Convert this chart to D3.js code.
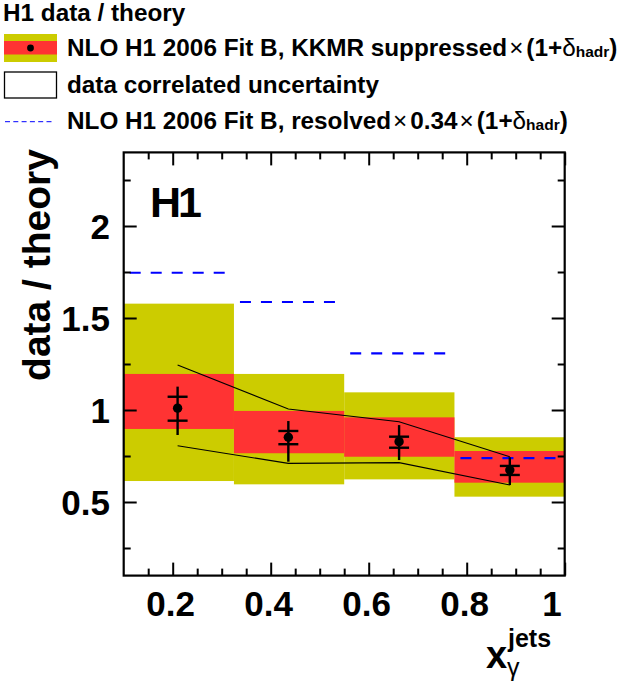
<!DOCTYPE html>
<html>
<head>
<meta charset="utf-8">
<script src="https://cdn.jsdelivr.net/npm/d3@7"></script>
<style>
  body { margin: 0; background: #fff; }
  text { font-family: "Liberation Sans", Arial, sans-serif; }
</style>
</head>
<body>
<div id="chart"></div>
<script>

// bins in x_gamma^jets
binEdges = [0.1, 0.325, 0.55, 0.775, 1.0]
xPoints = [0.21, 0.436, 0.662, 0.888]

// data / theory with errors
ratio = [1.01, 0.852, 0.828, 0.674]
statLo = [0.942, 0.814, 0.795, 0.647]
statHi = [1.072, 0.886, 0.855, 0.696]
totLo = [0.864, 0.719, 0.728, 0.592]
totHi = [1.127, 0.940, 0.918, 0.743]

// NLO theory bands (red = inner, yellow = outer)
innerLo = [0.897, 0.765, 0.746, 0.605]
innerHi = [1.196, 0.995, 0.960, 0.777]
outerLo = [0.614, 0.596, 0.623, 0.529]
outerHi = [1.578, 1.196, 1.096, 0.852]

// resolved x 0.34
resolved = [1.746, 1.587, 1.308, 0.738]

// data correlated uncertainty
corrHi = [1.245, 1.005, 0.936, 0.746]
corrLo = [0.806, 0.710, 0.714, 0.592]

xMajor = [0.2, 0.4, 0.6, 0.8, 1.0]
xMajorLbl = ["0.2", "0.4", "0.6", "0.8", "1"]
xMinor = [0.15, 0.25, 0.3, 0.35, 0.45, 0.5, 0.55, 0.65, 0.7, 0.75, 0.85, 0.9, 0.95]
yMajor = [0.5, 1, 1.5, 2]
yMajorLbl = ["0.5", "1", "1.5", "2"]
yMinor = [0.25, 0.75, 1.25, 1.75, 2.25]

var W = 626, H = 691
var yellow = "#cccc00", red = "#ff3333", blue = "#0000ff"

var svg = d3.select("#chart").append("svg")
  .attr("width", W)
  .attr("height", H)

svg.append("rect").attr("width", W).attr("height", H).attr("fill", "white")

var x = d3.scaleLinear().domain([0.1, 1.0]).range([123.7, 564.7])
var y = d3.scaleLinear().domain([0.1, 2.4]).range([575.6, 152.4])

var bins = d3.range(4)

// outer band
svg.append("g").selectAll("rect")
  .data(bins)
  .enter()
  .append("rect")
  .attr("x", function(i){ return x(binEdges[i]) })
  .attr("width", function(i){ return x(binEdges[i+1]) - x(binEdges[i]) })
  .attr("y", function(i){ return y(outerHi[i]) })
  .attr("height", function(i){ return y(outerLo[i]) - y(outerHi[i]) })
  .attr("fill", yellow)

// inner band
svg.append("g").selectAll("rect")
  .data(bins)
  .enter()
  .append("rect")
  .attr("x", function(i){ return x(binEdges[i]) })
  .attr("width", function(i){ return x(binEdges[i+1]) - x(binEdges[i]) })
  .attr("y", function(i){ return y(innerHi[i]) })
  .attr("height", function(i){ return y(innerLo[i]) - y(innerHi[i]) })
  .attr("fill", red)

// resolved, dashed
svg.append("g").selectAll("line")
  .data(bins)
  .enter()
  .append("line")
  .attr("x1", function(i){ return x(binEdges[i]) + 6 })
  .attr("x2", function(i){ return x(binEdges[i+1]) })
  .attr("y1", function(i){ return y(resolved[i]) })
  .attr("y2", function(i){ return y(resolved[i]) })
  .attr("stroke", blue)
  .attr("stroke-width", 2.2)
  .attr("stroke-dasharray", "11,10")

// correlated uncertainty lines
var corrLine = d3.line()
  .x(function(d,i){ return x(xPoints[i]) })
  .y(function(d){ return y(d) })

;[corrHi, corrLo].forEach(function(arr)
{
  svg.append("path")
    .attr("d", corrLine(arr))
    .attr("fill", "none")
    .attr("stroke", "black")
    .attr("stroke-width", 1.1)
})

// data points
var pts = svg.append("g").selectAll("g")
  .data(bins)
  .enter()
  .append("g")

pts.append("line")
  .attr("x1", function(i){ return x(xPoints[i]) })
  .attr("x2", function(i){ return x(xPoints[i]) })
  .attr("y1", function(i){ return y(totHi[i]) })
  .attr("y2", function(i){ return y(totLo[i]) })
  .attr("stroke", "black")
  .attr("stroke-width", 2.4)

;[statLo, statHi].forEach(function(arr)
{
  pts.append("line")
    .attr("x1", function(i){ return x(xPoints[i]) - 10 })
    .attr("x2", function(i){ return x(xPoints[i]) + 10 })
    .attr("y1", function(i){ return y(arr[i]) })
    .attr("y2", function(i){ return y(arr[i]) })
    .attr("stroke", "black")
    .attr("stroke-width", 2.4)
})

pts.append("circle")
  .attr("cx", function(i){ return x(xPoints[i]) })
  .attr("cy", function(i){ return y(ratio[i]) })
  .attr("r", 4.7)
  .attr("fill", "black")

// frame + ticks
var x0 = x.range()[0], x1 = x.range()[1], y0 = y.range()[0], y1 = y.range()[1]

function ticksOn(axisGen, vals, size, transform)
{
  var g = svg.append("g")
    .attr("transform", transform)
    .call(axisGen.tickValues(vals).tickSize(size).tickFormat(""))
  g.select(".domain").remove()
  g.selectAll("line").attr("stroke", "black").attr("stroke-width", 2)
  return g
}

ticksOn(d3.axisBottom(x), xMajor, -13, "translate(0," + y0 + ")")
ticksOn(d3.axisBottom(x), xMinor, -7, "translate(0," + y0 + ")")
ticksOn(d3.axisTop(x), xMajor, -13, "translate(0," + y1 + ")")
ticksOn(d3.axisTop(x), xMinor, -7, "translate(0," + y1 + ")")
ticksOn(d3.axisLeft(y), yMajor, -13, "translate(" + x0 + ",0)")
ticksOn(d3.axisLeft(y), yMinor, -7, "translate(" + x0 + ",0)")
ticksOn(d3.axisRight(y), yMajor, -13, "translate(" + x1 + ",0)")
ticksOn(d3.axisRight(y), yMinor, -7, "translate(" + x1 + ",0)")

svg.append("rect")
  .attr("x", x0)
  .attr("y", y1)
  .attr("width", x1 - x0)
  .attr("height", y0 - y1)
  .attr("fill", "none")
  .attr("stroke", "black")
  .attr("stroke-width", 2.2)

// tick labels
svg.append("g").selectAll("text")
  .data(xMajor)
  .enter()
  .append("text")
  .attr("x", function(d,i){ return i == xMajor.length-1 ? x(d) - 3 : x(d) - 2 })
  .attr("y", 616)
  .attr("text-anchor", function(d,i){ return i == xMajor.length-1 ? "end" : "middle" })
  .attr("font-size", 35)
  .attr("font-weight", "bold")
  .text(function(d,i){ return xMajorLbl[i] })

svg.append("g").selectAll("text")
  .data(yMajor)
  .enter()
  .append("text")
  .attr("x", 110)
  .attr("y", function(d){ return y(d) + 12.5 })
  .attr("text-anchor", "end")
  .attr("font-size", 35)
  .attr("font-weight", "bold")
  .text(function(d,i){ return yMajorLbl[i] })

// axis titles
svg.append("text")
  .attr("transform", "translate(50,265) rotate(-90)")
  .attr("text-anchor", "middle")
  .attr("font-size", 39)
  .attr("font-weight", "bold")
  .text("data / theory")

var xt = svg.append("text").attr("font-weight", "bold")
xt.append("tspan").attr("x", 486).attr("y", 668).attr("font-size", 38).text("x")
xt.append("tspan").attr("x", 508).attr("y", 647).attr("font-size", 25).text("jets")
xt.append("tspan").attr("x", 507).attr("y", 676).attr("font-size", 25).attr("font-weight", "normal").text("γ")

svg.append("text")
  .attr("x", 150)
  .attr("y", 217)
  .attr("font-size", 43)
  .attr("font-weight", "bold")
  .attr("letter-spacing", -3)
  .text("H1")

// legend
var lg = svg.append("g")
var fs = 24.3

lg.append("text").attr("x", 3).attr("y", 21).attr("font-size", fs).attr("font-weight", "bold").text("H1 data / theory")

lg.append("rect").attr("x", 4).attr("y", 34).attr("width", 53).attr("height", 28).attr("fill", yellow)
lg.append("rect").attr("x", 4).attr("y", 41).attr("width", 53).attr("height", 13.5).attr("fill", red)
lg.append("circle").attr("cx", 30.5).attr("cy", 48).attr("r", 3.4).attr("fill", "black")

lg.append("rect").attr("x", 4.5).attr("y", 72).attr("width", 52).attr("height", 26).attr("fill", "white")
  .attr("stroke", "black").attr("stroke-width", 1.3)

lg.append("line").attr("x1", 5).attr("x2", 54).attr("y1", 121.7).attr("y2", 121.7)
  .attr("stroke", blue).attr("stroke-width", 1).attr("stroke-dasharray", "5,3.3")

function hadr(t)
{
  t.append("tspan").attr("font-weight", "normal").attr("dx", 2).text("×")
  t.append("tspan").attr("dx", 3).text("(1+")
  t.append("tspan").attr("font-weight", "normal").text("δ")
  t.append("tspan").attr("font-size", 15.5).attr("dy", 1).text("hadr")
  t.append("tspan").attr("dy", -1).text(")")
}

var t1 = lg.append("text").attr("x", 67).attr("y", 56).attr("font-size", fs).attr("font-weight", "bold")
t1.append("tspan").text("NLO H1 2006 Fit B, KKMR suppressed")
hadr(t1)

lg.append("text").attr("x", 67).attr("y", 92.5).attr("font-size", fs).attr("font-weight", "bold")
  .text("data correlated uncertainty")

var t3 = lg.append("text").attr("x", 67).attr("y", 129).attr("font-size", fs).attr("font-weight", "bold")
t3.append("tspan").text("NLO H1 2006 Fit B, resolved")
t3.append("tspan").attr("font-weight", "normal").attr("dx", 2).text("×")
t3.append("tspan").attr("dx", 3).text("0.34")
hadr(t3)

</script>
</body>
</html>
